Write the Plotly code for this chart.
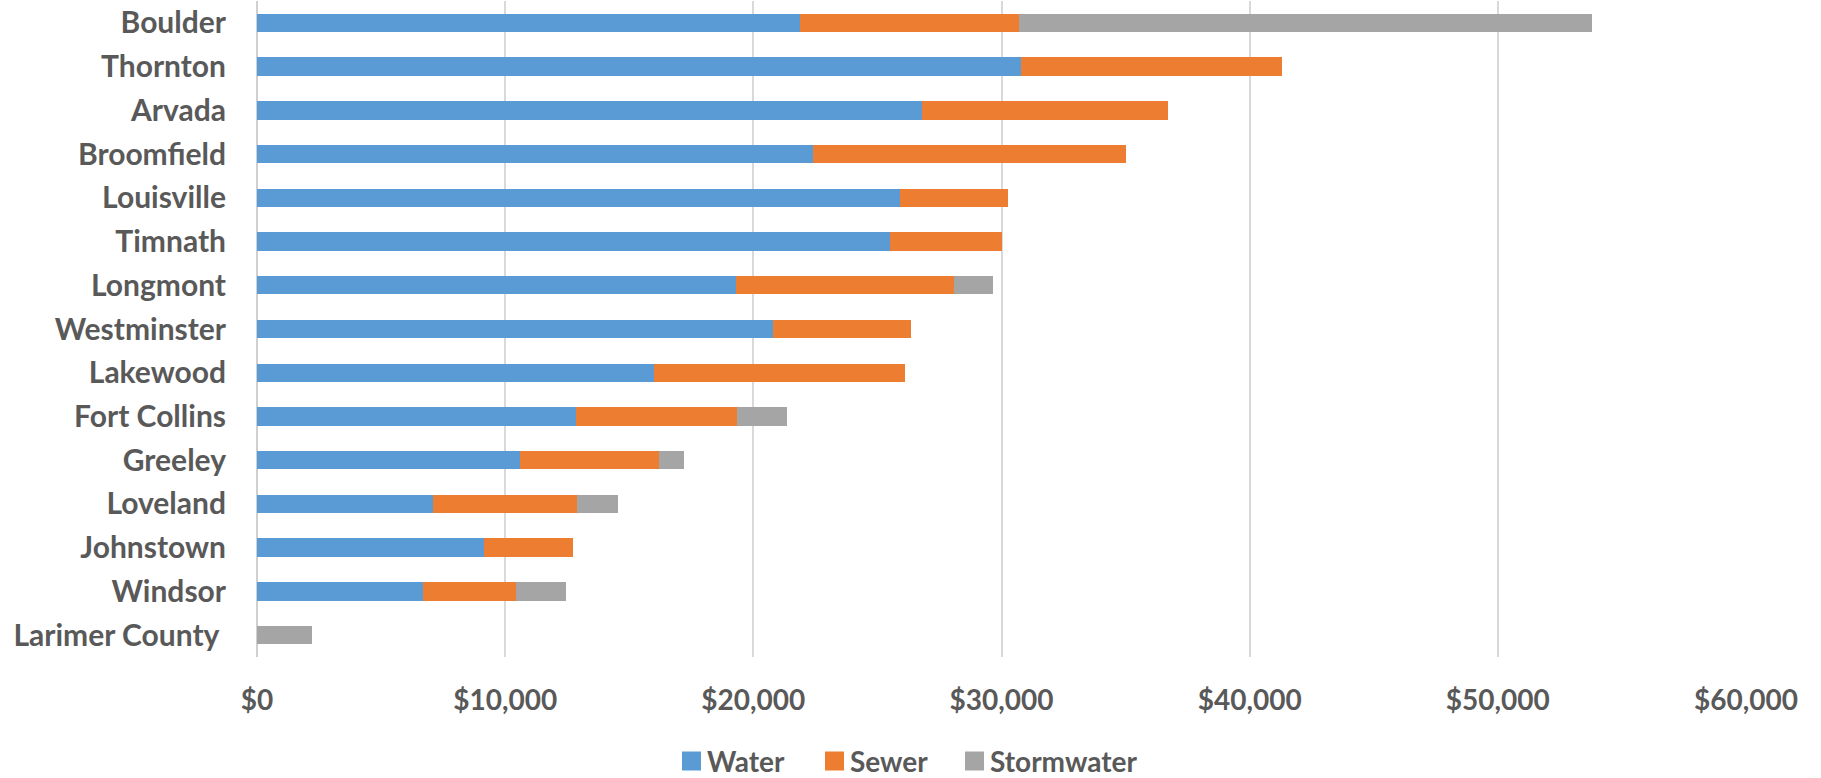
import plotly.graph_objects as go

# Annual utility charges by jurisdiction (USD)
cities = ["Boulder", "Thornton", "Arvada", "Broomfield", "Louisville", "Timnath",
          "Longmont", "Westminster", "Lakewood", "Fort Collins", "Greeley",
          "Loveland", "Johnstown", "Windsor", "Larimer County\u00a0"]
water = [21900, 30800, 26800, 22400, 25900, 25500, 19300, 20800, 16000,
         12850, 10600, 7100, 9150, 6700, 0]
sewer = [8800, 10500, 9900, 12600, 4350, 4500, 8800, 5550, 10100,
         6500, 5600, 5800, 3600, 3750, 0]
stormwater = [23100, 0, 0, 0, 0, 0, 1550, 0, 0,
              2000, 1000, 1650, 0, 2000, 2200]

tick_vals = [0, 10000, 20000, 30000, 40000, 50000, 60000]
tick_text = ["$0", "$10,000", "$20,000", "$30,000", "$40,000", "$50,000", "$60,000"]

series_names = ["Water", "Sewer", "Stormwater"]
series_colors = ["#5B9BD5", "#ED7D31", "#A5A5A5"]
series_values = [water, sewer, stormwater]

FONT = "Lato"
TEXT = "#595959"

W, H = 1821, 778
M_L, M_R, M_T, M_B = 257, 75, 1, 121
PLOT_W = W - M_L - M_R
PLOT_H = H - M_T - M_B


def px_to_paper_x(px):
    return (px - M_L) / PLOT_W


def px_to_paper_y(py):
    return (H - M_B - py) / PLOT_H


fig = go.Figure()
for name, vals, color in zip(series_names, series_values, series_colors):
    fig.add_trace(go.Bar(
        y=cities, x=vals, name=name, orientation="h",
        marker=dict(color=color, line=dict(width=0)),
        showlegend=False,
    ))

# Legend row below the axis: colour swatch followed by the series name
legend_left = [682, 825, 965]
legend_cy = 761
sw = 19
shapes, annotations = [], []
for left, name, color in zip(legend_left, series_names, series_colors):
    shapes.append(dict(
        type="rect", xref="paper", yref="paper",
        x0=px_to_paper_x(left), x1=px_to_paper_x(left + sw),
        y0=px_to_paper_y(legend_cy + sw / 2), y1=px_to_paper_y(legend_cy - sw / 2),
        fillcolor=color, line=dict(width=0), layer="above",
    ))
    annotations.append(dict(
        text=name, xref="paper", yref="paper",
        x=px_to_paper_x(left + sw + 4), y=px_to_paper_y(legend_cy),
        xanchor="left", yanchor="middle", showarrow=False,
        font=dict(family=FONT, size=28, color=TEXT, weight="bold"),
    ))

fig.update_layout(
    barmode="stack",
    bargap=0.58,
    width=W, height=H,
    margin=dict(l=M_L, r=M_R, t=M_T, b=M_B),
    paper_bgcolor="white", plot_bgcolor="white",
    font=dict(family=FONT, color=TEXT),
    showlegend=False,
    shapes=shapes,
    annotations=annotations,
)
fig.update_xaxes(
    range=[0, 60000], tickvals=tick_vals, ticktext=tick_text,
    showgrid=True, gridcolor="#D9D9D9", gridwidth=1.5,
    zeroline=True, zerolinecolor="#D0D0D0", zerolinewidth=2,
    showline=False, ticks="", automargin=False,
    tickfont=dict(family=FONT, size=28, color=TEXT, weight="bold"),
    ticklabelstandoff=24,
)
fig.update_yaxes(
    autorange="reversed", showgrid=False, showline=False, ticks="",
    automargin=False,
    tickfont=dict(family=FONT, size=30, color=TEXT, weight="bold"),
    ticklabelstandoff=30,
)

fig.write_html("out.html")
